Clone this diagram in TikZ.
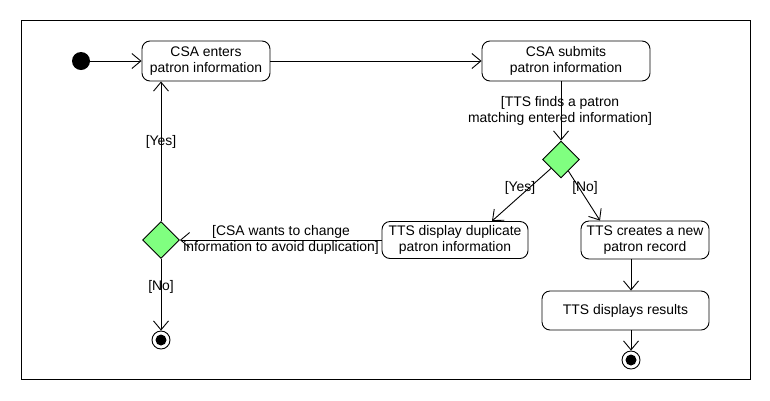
\documentclass[tikz,border=0pt]{standalone}
\usepackage{fontspec}
\setmainfont{Liberation Sans}
\usetikzlibrary{arrows.meta,shapes.geometric}
\definecolor{dgreen}{RGB}{128,255,128}
\begin{document}
\begin{tikzpicture}[x=1pt,y=-1pt,line width=0.9pt,
  font=\fontsize{13.9}{16}\selectfont,
  action/.style={draw,rounded corners=8pt,align=center,inner sep=0pt},
  decision/.style={draw,diamond,aspect=1,fill=dgreen,minimum size=37pt,inner sep=0pt},
  initial/.style={circle,fill=black,minimum size=18pt,inner sep=0pt},
  final/.style={circle,draw,fill=white,minimum size=18pt,inner sep=0pt,
    path picture={\fill[black] (path picture bounding box.center) circle (5.5pt);}},
  arr/.style={-{Straight Barb[length=9pt,width=15pt]}},
  lbl/.style={align=center,inner sep=0pt}]
\useasboundingbox (0,0) rectangle (770,400);
\draw (21,20) rectangle (750,379);

\node[initial] (init) at (81,61) {};
\node[action,minimum width=128pt,minimum height=40pt] (enters) at (206,61) {CSA enters\\patron information};
\node[action,minimum width=168pt,minimum height=40pt] (submits) at (566,61) {CSA submits\\patron information};
\node[decision] (d1) at (561,159.5) {};
\node[action,minimum width=146pt,minimum height=37pt] (dup) at (455,240) {TTS display duplicate\\patron information};
\node[decision] (d2) at (161,240) {};
\node[action,minimum width=128pt,minimum height=38pt] (creates) at (645,240) {TTS creates a new\\patron record};
\node[action,minimum width=167pt,minimum height=39pt] (results) at (625.5,310.5) {TTS displays results};
\node[final] (f1) at (161,340) {};
\node[final] (f2) at (631,360) {};

\draw[arr] (init) -- (enters);
\draw[arr] (enters) -- (submits);
\draw[arr] (d1 |- submits.south) -- (d1.north);
\node[lbl] (l1) at (560,111) {[TTS finds a patron\\matching entered information]};
\draw[arr] (d1) -- ([xshift=37pt]dup.north);
\node[lbl] (l2) at (520,188) {[Yes]};
\draw[arr] (d1) -- ([xshift=-45pt]creates.north);
\node[lbl] (l3) at (585,188) {[No]};
\draw[arr] (dup.west) -- (d2.east);
\node[lbl] (l4) at (281,240) {[CSA wants to change\\information to avoid duplication]};
\draw[arr] (d2.north) -- (d2 |- enters.south);
\node[lbl] (l5) at (161,142) {[Yes]};
\draw[arr] (d2.south) -- (f1);
\node[lbl] (l6) at (161,287) {[No]};
\draw[arr] (f2 |- creates.south) -- (f2 |- results.north);
\draw[arr] (f2 |- results.south) -- (f2);
\end{tikzpicture}
\end{document}
